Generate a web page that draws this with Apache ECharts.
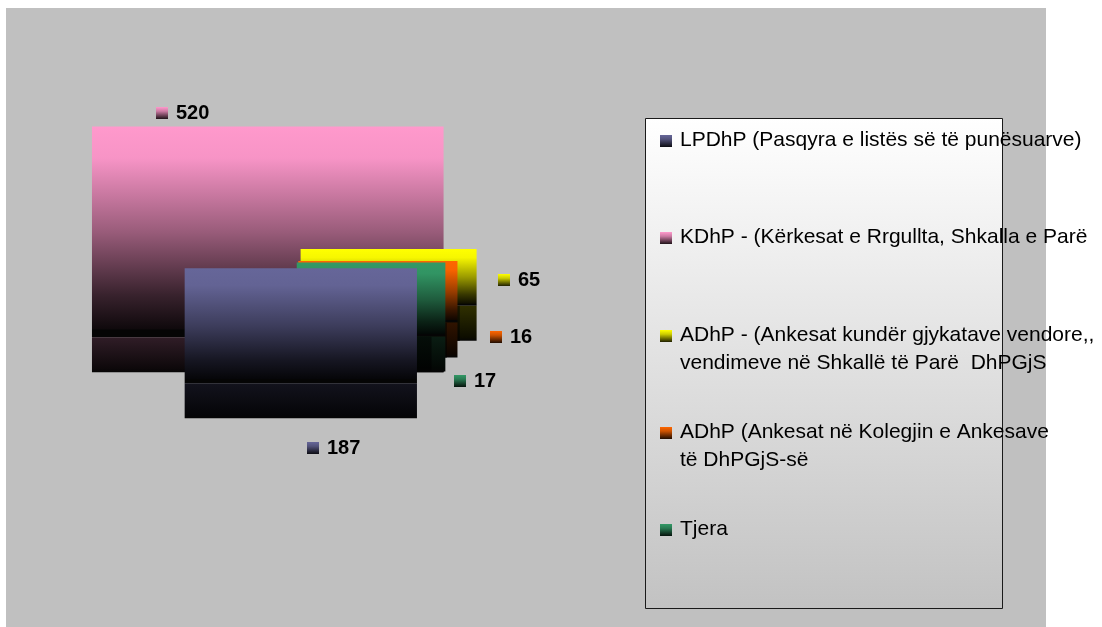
<!DOCTYPE html>
<html>
<head>
<meta charset="utf-8">
<script src="https://cdn.jsdelivr.net/npm/echarts@6/dist/echarts.min.js"></script>
<style>
  html, body { margin: 0; padding: 0; background: #ffffff; }
  #chart { width: 1102px; height: 627px; }
</style>
</head>
<body>
<div id="chart"></div>
<script>
// ---- data ----
const categories = [
  'LPDhP (Pasqyra e listës së të punësuarve)',
  'KDhP - (Kërkesat e Rrgullta, Shkalla e Parë',
  'ADhP - (Ankesat kundër gjykatave vendore,,\nvendimeve në Shkallë të Parë  DhPGjS',
  'ADhP (Ankesat në Kolegjin e Ankesave\ntë DhPGjS-së',
  'Tjera'
];
const values = [187, 520, 65, 16, 17];
const colors = ['#666699', '#ff99cc', '#ffff00', '#ff6600', '#339966'];

// ---- layout / style ----
const FONT = '"Liberation Sans", Arial, sans-serif';
const pie = { cx: 279, cy: 254, rx: 176, ry: 115, depth: 35, explode: 22, startAngle: 130 };
const labelRadius = 1.25;
// small per-label shifts that keep neighbouring value labels apart
const labelNudge = [[20, 3], [25, -4], [2, -10], [20, -10], [1, 13]];

function shade(hex, f) {
  const n = parseInt(hex.slice(1), 16);
  const r = Math.round(((n >> 16) & 255) * f);
  const g = Math.round(((n >> 8) & 255) * f);
  const b = Math.round((n & 255) * f);
  return 'rgb(' + r + ',' + g + ',' + b + ')';
}
function faceGradient(c) {
  return { type: 'linear', x: 0, y: 0, x2: 0, y2: 1, colorStops: [
    { offset: 0, color: c },
    { offset: 0.15, color: shade(c, 0.97) },
    { offset: 0.5, color: shade(c, 0.6) },
    { offset: 0.8, color: shade(c, 0.22) },
    { offset: 0.96, color: shade(c, 0.06) },
    { offset: 0.965, color: '#050505' },
    { offset: 1, color: '#050505' }
  ]};
}
// outer wall of a slice
function sideGradient(c) {
  return { type: 'linear', x: 0, y: 0, x2: 0, y2: 1, colorStops: [
    { offset: 0, color: shade(c, 0.19) },
    { offset: 0.9, color: shade(c, 0.05) },
    { offset: 1, color: '#050505' }
  ]};
}
// closing radial wall of a slice, in deeper shadow
function cutGradient(c) {
  return { type: 'linear', x: 0, y: 0, x2: 0, y2: 1, colorStops: [
    { offset: 0, color: shade(c, 0.09) },
    { offset: 0.9, color: shade(c, 0.02) },
    { offset: 1, color: '#030303' }
  ]};
}
function iconGradient(c) {
  return { type: 'linear', x: 0, y: 0, x2: 0, y2: 1, colorStops: [
    { offset: 0, color: c },
    { offset: 0.35, color: shade(c, 0.8) },
    { offset: 1, color: shade(c, 0.12) }
  ]};
}

// slice angles (clockwise from 12 o'clock)
const total = values.reduce((a, b) => a + b, 0);
const rad = d => d * Math.PI / 180;

function sliceGeometry(idx) {
  let a0 = pie.startAngle;
  for (let i = 0; i < idx; i++) a0 += values[i] / total * 360;
  const a1 = a0 + values[idx] / total * 360;
  const mid = (a0 + a1) / 2;
  const k = pie.ry / pie.rx;
  const cx = pie.cx + pie.explode * Math.sin(rad(mid));
  const cy = pie.cy - pie.explode * k * Math.cos(rad(mid));
  const pts = [[cx, cy]];
  const add = a => pts.push([cx + pie.rx * Math.sin(rad(a)), cy - pie.ry * Math.cos(rad(a))]);
  add(a0); add(a1);
  for (let q = Math.ceil(a0 / 90) * 90; q < a1; q += 90) add(q);
  const xs = pts.map(p => p[0]), ys = pts.map(p => p[1]);
  // the closing radial wall shows when it turns towards the viewer
  const endX = cx + pie.rx * Math.sin(rad(a1));
  const cut = Math.sin(rad(a1)) > 0 ? [cx, endX] : null;
  return {
    x0: Math.min(...xs), x1: Math.max(...xs),
    y0: Math.min(...ys), y1: Math.max(...ys),
    cx, cy, mid, cut
  };
}

function renderSlice(params, api) {
  const i = params.dataIndex;
  const v = api.value(0);
  const g = sliceGeometry(i);
  const c = colors[i];
  const nearness = -Math.cos(rad(g.mid));     // larger = nearer the viewer
  const z = Math.round((nearness + 1) * 20);

  const children = [
    { type: 'rect', z2: z,
      shape: { x: g.x0, y: g.y0, width: g.x1 - g.x0, height: g.y1 - g.y0 },
      style: { fill: faceGradient(c) } },
    { type: 'rect', z2: z,
      shape: { x: g.x0, y: g.y1, width: g.x1 - g.x0, height: pie.depth },
      style: { fill: sideGradient(c) } }
  ];
  if (g.cut) {
    children.push({ type: 'rect', z2: z,
      shape: { x: g.cut[0], y: g.y1, width: g.cut[1] - g.cut[0], height: pie.depth },
      style: { fill: cutGradient(c) } });
  }

  const sx = Math.sin(rad(g.mid)), sy = -Math.cos(rad(g.mid));
  const lx = g.cx + pie.rx * labelRadius * sx + labelNudge[i][0];
  const ly = g.cy + pie.ry * labelRadius * sy + (sy > 0 ? pie.depth * sy : 0) + labelNudge[i][1];
  const text = String(v);
  const w = 12 + 8 + text.length * 11.1;
  const left = lx - w / 2;
  children.push(
    { type: 'rect', z2: 100,
      shape: { x: Math.round(left), y: Math.round(ly - 6), width: 12, height: 12 },
      style: { fill: iconGradient(c) } },
    { type: 'text', z2: 100, x: Math.round(left + 20), y: Math.round(ly),
      style: { text: text, fill: '#000000', font: 'bold 20px ' + FONT,
               align: 'left', verticalAlign: 'middle' } }
  );
  return { type: 'group', children };
}

// legend built from the category names and colours
const legendEls = [];
categories.forEach((name, i) => {
  const y = 140 + i * 97.3;
  legendEls.push({ type: 'rect', shape: { x: 660, y: Math.round(y - 5), width: 12, height: 12 },
    style: { fill: iconGradient(colors[i]) }, z: 10 });
  name.split('\n').forEach((line, j) => {
    legendEls.push({ type: 'text', x: 680, y: Math.round(y + j * 28),
      style: { text: line, fill: '#000000', font: '21px ' + FONT, align: 'left', verticalAlign: 'middle' },
      z: 10 });
  });
});

const chart = echarts.init(document.getElementById('chart'), null, { renderer: 'canvas' });
chart.setOption({
  backgroundColor: '#ffffff',
  animation: false,
  graphic: [
    { type: 'rect', shape: { x: 6, y: 8, width: 1040, height: 630 },
      style: { fill: '#c0c0c0' }, z: -10, silent: true },
    { type: 'rect', shape: { x: 645.5, y: 118.5, width: 357, height: 490 },
      style: { stroke: '#1a1a1a', lineWidth: 1,
        fill: { type: 'linear', x: 0, y: 0, x2: 0, y2: 1, colorStops: [
          { offset: 0, color: '#ffffff' }, { offset: 1, color: '#c2c2c2' } ] } },
      z: 1, silent: true },
    ...legendEls
  ],
  series: [{
    type: 'custom',
    coordinateSystem: 'none',
    data: values,
    renderItem: renderSlice,
    silent: true,
    z: 5
  }]
});
</script>
</body>
</html>
